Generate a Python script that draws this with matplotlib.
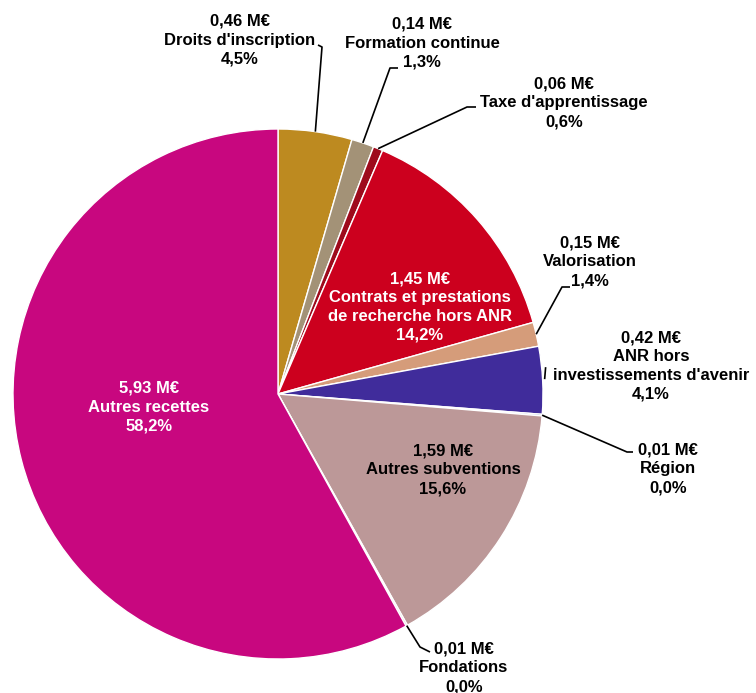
import numpy as np
import matplotlib
matplotlib.use('Agg')
import matplotlib.pyplot as plt

plt.rcParams['font.family'] = ['Liberation Sans', 'DejaVu Sans']

# Data
labels = ["Droits d'inscription", "Formation continue", "Taxe d'apprentissage",
          "Contrats et prestations\nde recherche hors ANR", "Valorisation",
          "ANR hors\ninvestissements d'avenir", "Région", "Autres subventions",
          "Fondations", "Autres recettes"]
amounts = [0.46, 0.14, 0.06, 1.45, 0.15, 0.42, 0.01, 1.59, 0.01, 5.93]
pcts = [4.5, 1.3, 0.6, 14.2, 1.4, 4.1, 0.0, 15.6, 0.0, 58.2]
colors = ['#BD8A20', '#A39277', '#9E0A1C', '#CC001E', '#D59C7A',
          '#402C9B', '#6A8CC8', '#BC9898', '#A0A0A0', '#C8077F']

W, H = 756, 693
fig = plt.figure(figsize=(W / 100, H / 100), dpi=100)
ax = fig.add_axes([0, 0, 1, 1])

cx, cy, r = 278, H - 394, 265
ax.pie(amounts, colors=colors, startangle=90, counterclock=False,
       center=(cx, cy), radius=r, frame=True,
       wedgeprops=dict(edgecolor='white', linewidth=1))
ax.set_xlim(0, W)
ax.set_ylim(0, H)
ax.set_aspect('equal')
ax.axis('off')


def fmt(a):
    return f"{a:.2f}".replace('.', ',') + " M€"


def fpct(p):
    return f"{p:.1f}".replace('.', ',') + "%"


# label centre (pixels from top-left), text colour, leader line points
layout = {
    0: ((240, 40), 'black', [(322, 47), (318, 45)]),
    1: ((422, 43), 'black', [(390, 68), (398, 68)]),
    2: ((564, 103), 'black', [(467, 107), (476, 107)]),
    3: ((420, 307), 'white', None),
    4: ((590, 262), 'black', [(562, 287), (570, 287)]),
    5: ((651, 366), 'black', 'tick'),
    6: ((668, 469), 'black', [(627, 452), (633, 452)]),
    7: ((443, 470), 'black', None),
    8: ((464, 668), 'black', [(420, 647), (430, 652)]),
    9: ((149, 407), 'white', None),
}

total = sum(amounts)
angle = 90.0
for i, (lab, a, p) in enumerate(zip(labels, amounts, pcts)):
    span = a / total * 360
    mid = np.deg2rad(angle - span / 2)
    angle -= span
    (tx, ty), col, leader = layout[i]
    ax.text(tx, H - ty, f"{fmt(a)}\n{lab}\n{fpct(p)}", ha='center', va='center',
            fontsize=12, fontweight='bold', color=col, linespacing=1.33)
    if leader is None:
        continue
    sx, sy = cx + r * np.cos(mid), cy + r * np.sin(mid)
    if leader == 'tick':
        xs = [sx + 2, sx + 3]
        ys = [sy + 1, sy + 13]
    else:
        xs = [sx] + [q[0] for q in leader]
        ys = [sy] + [H - q[1] for q in leader]
    ax.plot(xs, ys, color='black', lw=1.2, solid_capstyle='butt')

fig.savefig('out.png', dpi=100)
